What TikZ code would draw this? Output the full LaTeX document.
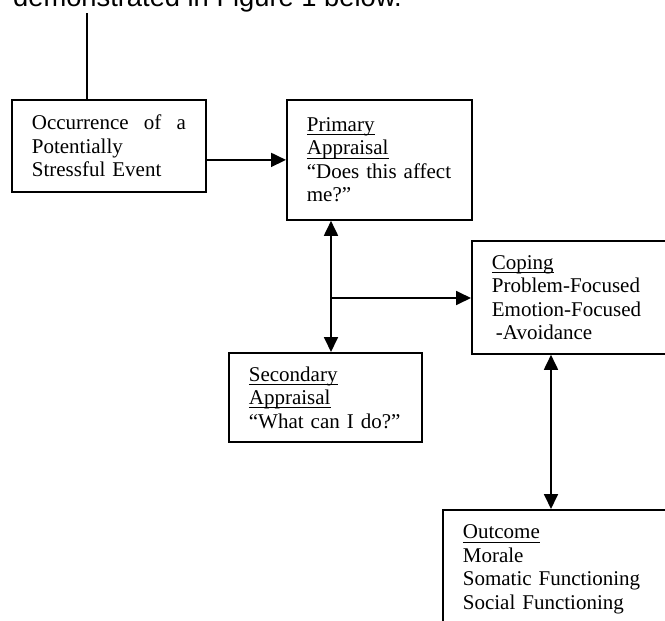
\documentclass[tikz,border=0pt]{standalone}
\usepackage{fontspec}
\setmainfont{Liberation Serif}
\newfontfamily\introfont{Liberation Sans}
\usepackage{tikz}
\usetikzlibrary{arrows.meta,positioning,calc}
\newcommand{\undl}[1]{\leavevmode\setbox0\hbox{#1}\rlap{\rule[-3.8pt]{\wd0}{0.9pt}}\box0}
\tikzset{
  stage/.style={draw,line width=1.8pt,anchor=north west,align=left,
    inner xsep=20pt,inner ysep=0pt,font=\fontsize{21}{23.5}\selectfont},
  wire/.style={line width=1.8pt}
}

\begin{document}
\begin{tikzpicture}[x=1pt,y=-1pt,>={Triangle[length=15pt,width=14pt]}]
\useasboundingbox (0,0) rectangle (665,621);
\clip (0,0) rectangle (665,621);
\node[anchor=base west,inner sep=0pt,font=\introfont\fontsize{27.3}{32}\selectfont] (intro) at (13,6) {demonstrated in Figure 1 below.};
% boxes
\node[stage,text width=154pt,minimum height=92pt] (event) at (11,99) {Occurrence\hfill of\hfill a\\Potentially\\Stressful Event};
\node[stage,text width=145pt,minimum height=120pt] (primary) at (286,99) {\undl{Primary}\\\undl{Appraisal}\\“Does this affect\\me?”};
\node[stage,text width=153pt,minimum height=89pt] (secondary) at (228,352) {\undl{Secondary}\\\undl{Appraisal}\\“What can I do?”};
\node[stage,text width=180pt,minimum height=113pt] (coping) at (471,240) {\undl{Coping}\\Problem-Focused\\Emotion-Focused\\\hspace*{4pt}-Avoidance};
\node[stage,text width=200pt,minimum height=119pt] (outcome) at (442,509) {\undl{Outcome}\\Morale\\Somatic Functioning\\Social Functioning};
% connectors
\coordinate (cue) at (87,13);
\draw[line width=1.5pt] (cue) -- (cue |- event.north);
\draw[wire,->] (event.east |- primary.west) -- (primary.west);
\coordinate (fork) at (331,298);
\draw[wire,<->] (fork |- primary.south) -- (fork |- secondary.north);
\draw[wire,->] (fork) -- (fork -| coping.west);
\coordinate (link) at (551,430);
\draw[wire,<->] (link |- coping.south) -- (link |- outcome.north);
\end{tikzpicture}
\end{document}
